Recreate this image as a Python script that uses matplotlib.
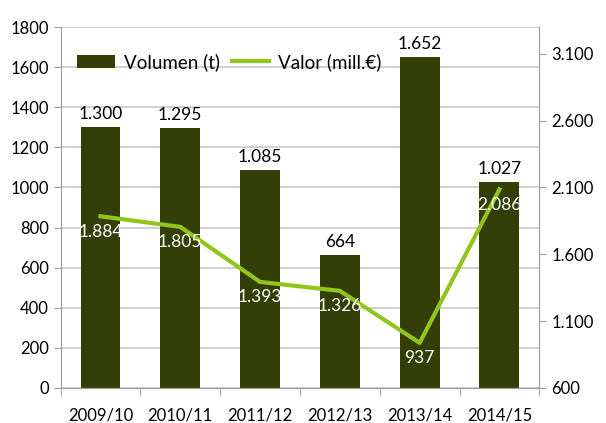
import matplotlib.pyplot as plt

plt.rcParams['font.family'] = ['Lato', 'DejaVu Sans']

campanas = ['2009/10', '2010/11', '2011/12', '2012/13', '2013/14', '2014/15']
volumen = [1300, 1295, 1085, 664, 1652, 1027]
valor = [1884, 1805, 1393, 1326, 937, 2086]


def miles(v):
    return f"{v:,}".replace(',', '.')


fig, ax = plt.subplots(figsize=(6.06, 4.23), dpi=100)
fig.subplots_adjust(left=0.10, right=0.89, top=0.936, bottom=0.083)
ax2 = ax.twinx()

x = range(len(campanas))
barras = ax.bar(x, volumen, width=0.5, color='#333F06', label='Volumen (t)', zorder=2)
linea, = ax2.plot(x, valor, color='#92C51B', lw=3, label='Valor (mill.€)', zorder=3)

for xi, v in zip(x, volumen):
    ax.text(xi, v + 25, miles(v), ha='center', va='bottom', fontsize=12.5, color='black')
for xi, v in zip(x, valor):
    ax2.text(xi, v - 55, miles(v), ha='center', va='top', fontsize=12.5, color='white', zorder=4)

ax.set_xlim(-0.5, 5.5)
ax.set_ylim(0, 1800)
ax.set_yticks(range(0, 1801, 200))
ax2.set_ylim(600, 3300)
ax2.set_yticks(range(600, 3101, 500))
ax2.set_yticklabels([miles(v) for v in range(600, 3101, 500)])

ax.set_xticks(list(x))
ax.set_xticklabels(campanas)
ax.set_xticks([i - 0.5 for i in range(7)], minor=True)
ax.tick_params(axis='x', which='major', length=0, labelsize=12, pad=14)
ax.tick_params(axis='x', which='minor', length=6, color='#A0A0A0')
ax.tick_params(axis='y', length=5, color='#A0A0A0', labelsize=12)
ax2.tick_params(axis='y', length=5, color='#A0A0A0', labelsize=12)

ax.grid(axis='y', color='#C8C8C8', lw=1.2, zorder=0)
ax.set_axisbelow(True)
for a in (ax, ax2):
    a.spines['top'].set_visible(False)
    for s in ('left', 'right', 'bottom'):
        a.spines[s].set_color('#A0A0A0')

ax.legend([barras, linea], ['Volumen (t)', 'Valor (mill.€)'], loc='upper left',
          ncol=2, frameon=False, fontsize=13.5, bbox_to_anchor=(0.0, 0.975),
          handlelength=2.0, columnspacing=0.6, handletextpad=0.5)

fig.savefig('out.png')
